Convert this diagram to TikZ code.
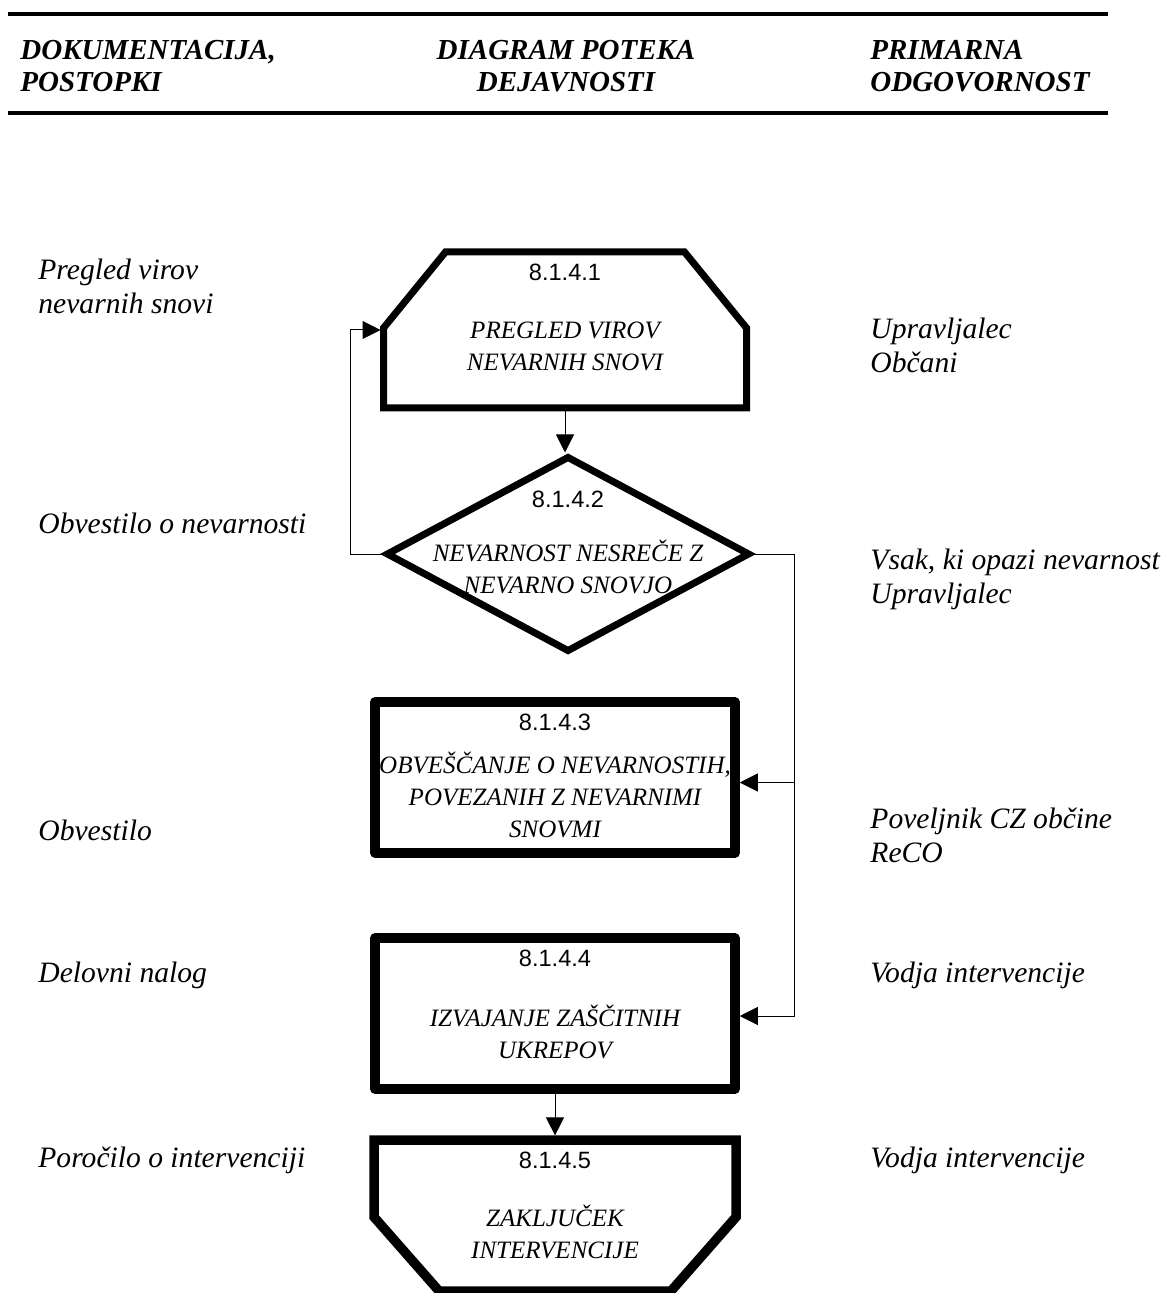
\documentclass[tikz,border=0pt]{standalone}
\usepackage{fontspec}
\setmainfont{Liberation Serif}
\newfontfamily\numfont{Liberation Sans}
\usetikzlibrary{arrows.meta, positioning, shapes.geometric}
\tikzstyle{frame} = [line width=4.75pt, line join=round, draw=black]
\tikzstyle{thinframe} = [line width=3.5pt, line join=miter, draw=black]
\tikzstyle{stepbox} = [rectangle, frame, inner sep=0pt, outer sep=2.375pt]
\tikzstyle{plainbox} = [rectangle, inner sep=0pt, outer sep=0pt]
\tikzstyle{choice} = [diamond, thinframe, inner sep=0pt, outer sep=1.75pt]
\tikzstyle{num} = [inner sep=0pt, font=\numfont\fontsize{11.8}{14}\selectfont]
\tikzstyle{inside} = [inner sep=0pt, align=center, font=\fontsize{12.5}{16}\selectfont\itshape]
\tikzstyle{side} = [inner sep=0pt, anchor=west, align=left, font=\fontsize{14.8}{17}\selectfont\itshape]
\tikzstyle{head} = [inner sep=0pt, font=\fontsize{14.5}{16}\selectfont\bfseries\itshape]
\tikzstyle{rule} = [line width=2.25pt]
\tikzstyle{arrow} = [line width=0.5pt, -{Triangle[length=9pt, width=9pt]}]

\begin{document}
\begin{tikzpicture}[x=0.5pt, y=-0.5pt]
\useasboundingbox (0,0) rectangle (1171,1293);

% Header
\draw[rule] (8,14) -- (1108,14);
\draw[rule] (8,113) -- (1108,113);
\node (h1) [head, anchor=west, align=left] at (20,66) {DOKUMENTACIJA,\\POSTOPKI};
\node (h2) [head, align=center] at (566,66) {DIAGRAM POTEKA\\DEJAVNOSTI};
\node (h3) [head, anchor=west, align=left] at (870,66) {PRIMARNA\\ODGOVORNOST};

% Nodes
\node (s1) [plainbox, minimum width=181.5pt, minimum height=78pt] at (565,330) {};
\draw[thinframe] ([yshift=-38pt]s1.north west) -- ([xshift=31pt]s1.north west)
  -- ([xshift=-31pt]s1.north east) -- ([yshift=-38pt]s1.north east)
  -- (s1.south east) -- (s1.south west) -- cycle;
\node (n1) [num, below=6pt of s1.north] {8.1.4.1};
\node (t1) [inside] at ([yshift=-8pt]s1.center) {PREGLED VIROV\\NEVARNIH SNOVI};

\node (s2) [choice, minimum width=182pt, minimum height=98pt] at (568,554) {};
\node (n2) [num, below=19pt of s2.north] {8.1.4.2};
\node (t2) [inside] at ([yshift=-6.5pt]s2.center) {NEVARNOST NESREČE Z\\NEVARNO SNOVJO};

\node (s3) [stepbox, minimum width=180pt, minimum height=75.5pt] at (555,777.5) {};
\node (n3) [num, below=8pt of s3.north] {8.1.4.3};
\node (t3) [inside] at ([yshift=-8.75pt]s3.center) {OBVEŠČANJE O NEVARNOSTIH,\\POVEZANIH Z NEVARNIMI\\SNOVMI};

\node (s4) [stepbox, minimum width=180pt, minimum height=75.5pt] at (555,1013.5) {};
\node (n4) [num, below=8pt of s4.north] {8.1.4.4};
\node (t4) [inside] at ([yshift=-9pt]s4.center) {IZVAJANJE ZAŠČITNIH\\UKREPOV};

\node (s5) [plainbox, minimum width=181pt, minimum height=75.5pt] at (555,1215.5) {};
\draw[frame, line join=miter] (s5.north west) -- (s5.north east) -- ([yshift=37pt]s5.south east)
  -- ([xshift=-32.5pt]s5.south east) -- ([xshift=32.5pt]s5.south west)
  -- ([yshift=37pt]s5.south west) -- cycle;
\node (n5) [num, below=6pt of s5.north] {8.1.4.5};
\node (t5) [inside] at ([yshift=-8.25pt]s5.center) {ZAKLJUČEK\\INTERVENCIJE};

% Side columns
\node (l1) [side] at (38,286.5) {Pregled virov\\nevarnih snovi};
\node (l2) [side] at (38,523) {Obvestilo o nevarnosti};
\node (l3) [side] at (38,830) {Obvestilo};
\node (l4) [side] at (38,975) {Delovni nalog};
\node (l5) [side] at (38,1160) {Poročilo o intervenciji};
\node (r1) [side] at (870,345) {Upravljalec\\Občani};
\node (r2) [side] at (870,579.5) {Vsak, ki opazi nevarnost\\Upravljalec};
\node (r3) [side] at (870,835) {Poveljnik CZ občine\\ReCO};
\node (r4) [side] at (870,975) {Vodja intervencije};
\node (r5) [side] at (870,1160) {Vodja intervencije};

% Paths
\coordinate (bus) at (794,554);
\draw[arrow] (s1.south) -- (s1.south |- s2.north);
\draw[arrow, shorten >=1.5pt] (s2.west) -- ++(-32,0) |- (s1.west);
\draw[arrow] (s2.east) -- (bus) |- ([yshift=-2.5pt]s3.east);
\draw[arrow] (bus) |- ([yshift=-1.25pt]s4.east);
\draw[arrow, shorten >=2.3pt] (s4.south) -- (s5.north);

\end{tikzpicture}
\end{document}
